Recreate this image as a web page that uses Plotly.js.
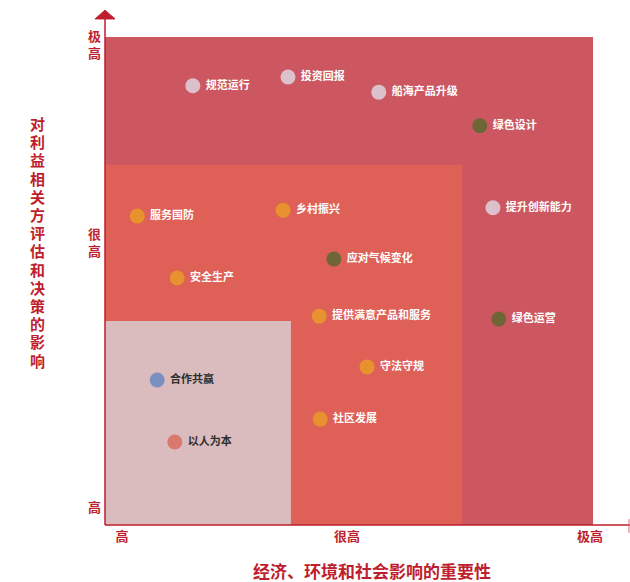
<!DOCTYPE html>
<html>
<head>
<meta charset="utf-8">
<script src="https://cdn.plot.ly/plotly-3.0.1.min.js"></script>
<style>html,body{margin:0;padding:0;background:#fff;}#chart{width:630px;height:582px;}</style>
</head>
<body>
<div id="chart"></div>
<script>
const topics = ['规范运行','投资回报','船海产品升级','绿色设计','提升创新能力','绿色运营','服务国防','乡村振兴','应对气候变化','安全生产','提供满意产品和服务','守法守规','社区发展','合作共赢','以人为本'];
const econImpact = [1.80, 3.75, 5.61, 7.68, 7.95, 8.07, 0.66, 3.65, 4.69, 1.48, 4.39, 5.37, 4.41, 1.07, 1.43];
const stakeholderImpact = [9.00, 9.18, 8.87, 8.18, 6.50, 4.22, 6.33, 6.45, 5.45, 5.06, 4.28, 3.24, 2.17, 2.97, 1.70];
const groups = ['governance','governance','governance','environment','governance','environment','social','social','environment','social','social','social','social','partner','people'];
const xTickVals = [0.35, 4.96, 9.94];
const xTickText = ['高','很高','极高'];
const yTickVals = [0.35, 5.78, 9.84];
const yTickText = ['高','很<br>高','极<br>高'];
const zoneBounds = { outer: [10, 10], middle: [7.32, 7.38], inner: [3.81, 4.18] };
const xTitle = '经济、环境和社会影响的重要性';
const yTitle = '对利益相关方评估和决策的影响';

const groupColor = { governance:'#dcc0cb', environment:'#6e6636', social:'#e8912f', partner:'#7b90c0', people:'#d9786f' };
const red = '#be1e2d';
const textColors = groups.map(g => (g === 'partner' || g === 'people') ? '#2f2f2f' : '#ffffff');

const trace = {
  type:'scatter', mode:'markers+text',
  x: econImpact, y: stakeholderImpact,
  text: topics.map(t => ' ' + t),
  textposition:'middle right',
  textfont:{family:'"Noto Sans CJK SC", sans-serif', size:11, color:textColors, weight:'bold'},
  marker:{size:15, color: groups.map(g => groupColor[g]), line:{width:0}},
  hoverinfo:'skip', cliponaxis:false
};

const shapes = [
  {type:'rect', xref:'x', yref:'y', x0:0, x1:zoneBounds.outer[0], y0:0, y1:zoneBounds.outer[1], fillcolor:'#cc5760', line:{width:0}, layer:'below'},
  {type:'rect', xref:'x', yref:'y', x0:0, x1:zoneBounds.middle[0], y0:0, y1:zoneBounds.middle[1], fillcolor:'#de6057', line:{width:0}, layer:'below'},
  {type:'rect', xref:'x', yref:'y', x0:0, x1:zoneBounds.inner[0], y0:0, y1:zoneBounds.inner[1], fillcolor:'#dbbcbe', line:{width:0}, layer:'below'},
  {type:'line', xref:'paper', yref:'paper', x0:0, x1:0, y0:0, y1:1.038, line:{color:red, width:1.5}},
  {type:'line', xref:'paper', yref:'paper', x0:0, x1:1.0758, y0:0, y1:0, line:{color:red, width:1.5}},
  {type:'line', xref:'paper', yref:'paper', x0:1.0737, x1:1.0737, y0:-0.016, y1:0.012, line:{color:'#d07078', width:1}},
  {type:'path', xref:'paper', yref:'paper', path:'M -0.0205 1.037 L 0.0205 1.037 L 0 1.055 Z', fillcolor:red, line:{color:red, width:1}}
];

const plotH = 488, plotB = 525, plotL = 105;
const annotations = [
  {xref:'paper', yref:'paper', x:(372-plotL)/plotH, y:-(570-plotB)/plotH, text:xTitle, showarrow:false,
   font:{size:17, color:red, weight:'bold'}, xanchor:'center', yanchor:'middle'}
];
const yChars = yTitle.split('');
yChars.forEach((ch, i) => {
  const py = 123.5 + i * 18.2;
  annotations.push({xref:'paper', yref:'paper', x:(37-plotL)/plotH, y:(plotB-py)/plotH, text:ch, showarrow:false,
    font:{size:15, color:red, weight:'bold'}, xanchor:'center', yanchor:'middle'});
});

const layout = {
  width:630, height:582,
  margin:{l:105, r:37, t:37, b:57},
  paper_bgcolor:'#ffffff', plot_bgcolor:'#ffffff',
  showlegend:false,
  font:{family:'"Noto Sans CJK SC", sans-serif'},
  xaxis:{range:[0,10], tickvals:xTickVals, ticktext:xTickText, showgrid:false, zeroline:false, showline:false, ticks:'', ticklabelstandoff:2,
         tickfont:{size:13, color:red, weight:'bold'}, fixedrange:true},
  yaxis:{range:[0,10], tickvals:yTickVals, ticktext:yTickText, showgrid:false, zeroline:false, showline:false, ticks:'', ticklabelstandoff:3,
         tickfont:{size:13, color:red, weight:'bold'}, fixedrange:true},
  shapes: shapes,
  annotations: annotations
};

Plotly.newPlot('chart', [trace], layout, {displayModeBar:false, staticPlot:true});
</script>
</body>
</html>
